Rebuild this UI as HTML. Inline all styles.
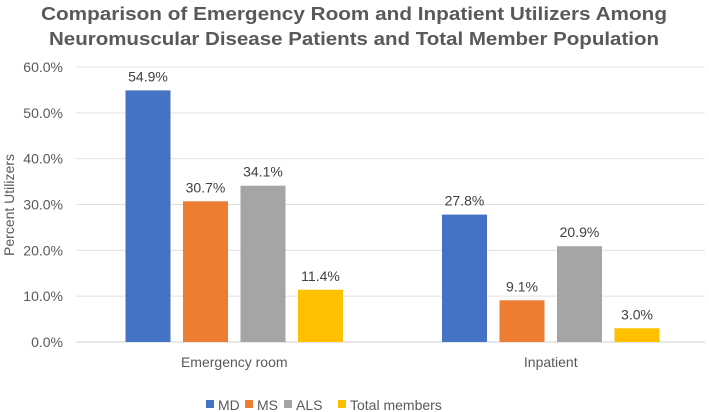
<!DOCTYPE html>
<html><head><meta charset="utf-8"><style>
body{margin:0;background:#fff;}
svg{font-family:"Liberation Sans",sans-serif;display:block}
</style></head><body>
<svg id="c" width="709" height="412">
<text x="354" y="20" text-anchor="middle" font-size="18" font-weight="bold" fill="#595959" textLength="626" lengthAdjust="spacingAndGlyphs">Comparison of Emergency Room and Inpatient Utilizers Among</text>
<text x="354" y="45" text-anchor="middle" font-size="18" font-weight="bold" fill="#595959" textLength="610" lengthAdjust="spacingAndGlyphs">Neuromuscular Disease Patients and Total Member Population</text>
<text transform="translate(14,205) rotate(-90)" text-anchor="middle" font-size="14" fill="#595959">Percent Utilizers</text>
<g id="grid"></g><g id="bars"></g><g id="legend"></g>
</svg>
<script>
const categories=["Emergency room","Inpatient"];
const seriesNames=["MD","MS","ALS","Total members"];
const md=[54.9,27.8];
const ms=[30.7,9.1];
const als=[34.1,20.9];
const total=[11.4,3.0];
const yTicks=[0,10,20,30,40,50,60];
const colors=["#4472c4","#ed7d31","#a5a5a5","#ffc000"];
const series=[md,ms,als,total];
const NS="http://www.w3.org/2000/svg";
const y0=342,y1=67,vmax=60,xL=76,xR=709;
const y=v=>y0-(v/vmax)*(y0-y1);
const catW=(xR-xL)/categories.length;
const cx=i=>xL+catW*(i+0.5);
const bw=45,step=57.5;
function mk(t,a,p){const e=document.createElementNS(NS,t);for(const k in a)e.setAttribute(k,a[k]);p.appendChild(e);return e;}
const g=document.getElementById('grid');
yTicks.forEach(t=>{
 const l=mk('line',{x1:xL,x2:xR-4,y1:y(t),y2:y(t),stroke:t===0?'#d0d0d0':'#e0e0e0','stroke-width':1},g);
 
 
 const tx=mk('text',{x:63,y:y(t)+5,'text-anchor':'end','font-size':14,fill:'#595959'},g);
 tx.textContent=t.toFixed(1)+'%';
 
 
});
const b=document.getElementById('bars');
categories.forEach((c,i)=>{
 const t=mk('text',{x:cx(i),y:367,'text-anchor':'middle','font-size':14,fill:'#595959'},b);
 t.textContent=c;
 
 
 series.forEach((s,j)=>{
  const x=cx(i)+(j-1.5)*step-bw/2;
  const r=mk('rect',{x:x,y:y(s[i]),width:bw,height:y0-y(s[i]),fill:colors[j]},b);
  
  
  const lb=mk('text',{x:x+bw/2,y:y(s[i])-9,'text-anchor':'middle','font-size':14,fill:'#404040'},b);
  lb.textContent=s[i].toFixed(1)+'%';
  
  
 });
});
const lg=document.getElementById('legend');
const lx=[218,257,296,350];
seriesNames.forEach((n,j)=>{
 const r=mk('rect',{x:lx[j]-12,y:400,width:8,height:8,fill:colors[j]},lg);
 
 
 const t=mk('text',{x:lx[j],y:410,'font-size':14,fill:'#595959'},lg);
 t.textContent=n;
 
 
});
</script>
</body></html>
